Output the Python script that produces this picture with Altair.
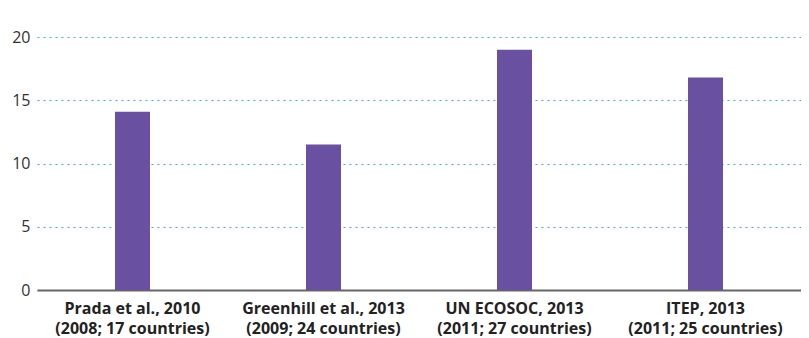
import altair as alt
import pandas as pd

studies = ["Prada et al., 2010|(2008; 17 countries)",
           "Greenhill et al., 2013|(2009; 24 countries)",
           "UN ECOSOC, 2013|(2011; 27 countries)",
           "ITEP, 2013|(2011; 25 countries)"]
values = [14.1, 11.5, 19.0, 16.8]
y_ticks = [0, 5, 10, 15, 20]

df = pd.DataFrame({"study": studies, "value": values})

chart = alt.Chart(df).mark_bar(color="#6950a1", size=35).encode(
    x=alt.X("study:N", sort=studies, title=None,
            scale=alt.Scale(paddingInner=0, paddingOuter=0),
            axis=alt.Axis(labelAngle=0, labelExpr="split(datum.label, '|')",
                          labelFont="Open Sans", labelFontWeight="bold",
                          labelFontSize=16, labelColor="#222", labelLineHeight=20,
                          labelPadding=10, ticks=False, domainColor="#666",
                          domainWidth=2, grid=False)),
    y=alt.Y("value:Q", title=None,
            scale=alt.Scale(domain=[0, 20], nice=False),
            axis=alt.Axis(values=y_ticks, ticks=False, domain=False,
                          labelFont="Open Sans", labelFontSize=16,
                          labelColor="#333", labelPadding=7,
                          gridColor="#3fb0d6", gridDash=[2, 4], gridWidth=1.2))
).properties(
    width=764, height=253,
    autosize=alt.AutoSizeParams(type="none"),
    padding={"left": 29, "top": 29, "right": 0, "bottom": 48}
).configure_view(stroke=None)

chart.save("out.html", embed_options={"renderer": "svg", "actions": False})
